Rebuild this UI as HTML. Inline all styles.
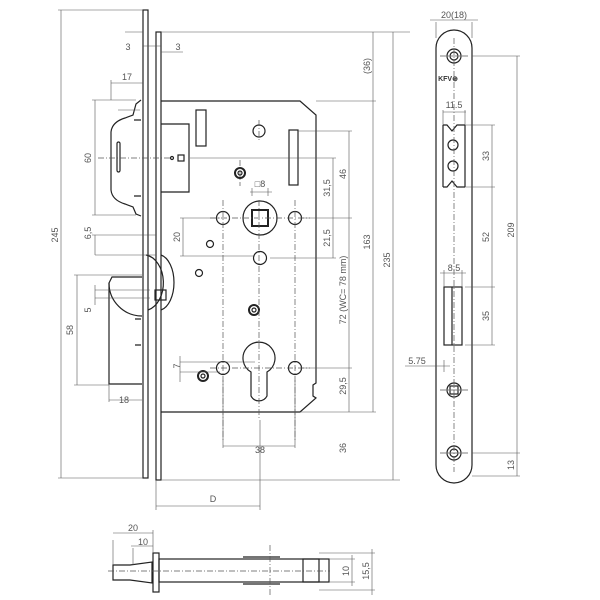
<!DOCTYPE html>
<html><head><meta charset="utf-8"><style>html,body{margin:0;padding:0;background:#fff}svg{display:block}</style></head>
<body>
<svg width="600" height="600" viewBox="0 0 600 600" xmlns="http://www.w3.org/2000/svg" font-family="Liberation Sans, sans-serif">
<g fill="none" stroke="#222" stroke-width="1.2">
<rect x="143" y="10" width="5" height="468"/>
<rect x="156" y="32" width="5" height="448"/>
<path d="M161 101 H300 L316 115 V383 L313 385 V396 L316 398 L300 412 H161"/>
<path d="M161 124 H189 V192 H161"/>
<rect x="178" y="155" width="6" height="6"/><circle cx="172" cy="158" r="1.5"/>
<rect x="196" y="110" width="10" height="36"/>
<rect x="289" y="130" width="9" height="55"/>
<circle cx="259" cy="131" r="6"/><circle cx="223" cy="218" r="6.5"/><circle cx="295" cy="218" r="6.5"/><circle cx="260" cy="258" r="6.5"/>
<circle cx="260" cy="218" r="17"/><rect x="252" y="210" width="16" height="16" stroke-width="2"/>
<circle cx="240" cy="173" r="5" stroke-width="2"/><circle cx="240" cy="173" r="2"/>
<circle cx="254" cy="310" r="5" stroke-width="2"/><circle cx="254" cy="310" r="2"/>
<circle cx="203" cy="376" r="5" stroke-width="2"/><circle cx="203" cy="376" r="2"/>
<circle cx="210" cy="244" r="3.5"/><circle cx="199" cy="273" r="3.5"/>
<circle cx="223" cy="368" r="6.5"/><circle cx="295" cy="368" r="6.5"/>
<path d="M251 372 A16 16 0 1 1 267 372 L267 396 A9 9 0 0 1 251 396 Z"/>
<path d="M141 100 L136 104 L133 115 L125 118 Q112 122 111 132 V190 Q112 200 125 204 L133 207 L136 214 L141 216"/>
<rect x="117" y="142" width="3" height="30" rx="1.5"/>
<path d="M134 120 H141 M134 196 H141"/>
<path d="M142 277 H112 L109 283 V384 H142"/>
<path d="M109 283 A33 33 0 0 0 142 316"/>
<path d="M135 319 H141 M135 345 H141"/>
<path d="M146 255 A20 28 0 0 1 148 310 M161 255 A16 28 0 0 1 161 310"/>
<rect x="155" y="290" width="11" height="10"/>
<path d="M436 48 A18 18 0 0 1 472 48 V465 A18 18 0 0 1 436 465 Z"/>
<circle cx="454" cy="56" r="7"/><circle cx="454" cy="56" r="4"/>
<circle cx="454" cy="390" r="7"/><rect x="450" y="386" width="8" height="8"/>
<circle cx="454" cy="453" r="7"/><circle cx="454" cy="453" r="4"/>
<path d="M443 125 H447 L452 131 L457 125 H465 M443 187 H447 L452 181 L457 187 H465 M443 125 V187 M465 125 V187"/>
<circle cx="453" cy="145" r="5"/><circle cx="453" cy="166" r="5"/>
<rect x="444" y="287" width="18" height="58"/><path d="M452 287 V345"/>
<path d="M113 565 V580 H130 L152 583 V562 L130 565 Z"/>
<rect x="153" y="553" width="6" height="39"/>
<rect x="159" y="559" width="170" height="23"/>
<rect x="303" y="559" width="16" height="23"/>
<path d="M243 557 H280 M243 584 H280"/>
</g>
<g fill="none" stroke="#555" stroke-width="0.7" stroke-dasharray="6 2 1 2">
<path d="M98 158 H170"/><path d="M259 120 V142 M259 200 V420 M223 200 V440 M295 200 V440 M210 218 H310 M210 368 H310 M240 160 V186"/>
<path d="M454 38 V472 M440 56 H468 M440 390 H468 M440 453 H468"/>
<path d="M108 571 H330 M270 545 V595"/>
</g>
<g fill="none" stroke="#555" stroke-width="0.6">
<path d="M61 10 V478 M58 10 H143 M58 478 H143"/>
<path d="M161 32 H410 M161 480 H400 M373 32 V412 M393 32 V480 M316 101 H376 M300 412 H376"/>
<path d="M298 131 H352 M349 131 V412 M333 158 V258 M190 158 H336 M300 218 H352 M270 258 H336 M300 368 H352"/>
<path d="M95 100 V215 M92 100 H136 M92 215 H136 M111 80 V100 M111 83 H143 M95 235 V255 M95 255 H156 M92 235 H156"/>
<path d="M183 218 V256 M180 218 H220 M180 256 H255"/>
<path d="M77 275 V385 M74 275 H142 M74 385 H109 M95 285 V305 M95 290 H150 M95 298 H150 M109 385 V402 M109 400 H142"/>
<path d="M180 356 V382 M180 362 H255 M180 372 H220"/>
<path d="M223 380 V448 M295 380 V448 M223 446 H295"/>
<path d="M156 480 V510 M260 420 V510 M156 506 H260"/>
<path d="M118 110 H140 M125 32 H143 M161 52 H183 M143 46 H161"/>
<path d="M252 188 V196 M268 188 V196 M250 192 H272"/>
<path d="M436 22 V38 M472 22 V38 M430 20 H478"/>
<path d="M472 56 H520 M517 56 V476 M472 476 H520 M472 453 H520"/>
<path d="M465 125 H495 M465 187 H495 M465 287 H495 M465 345 H495 M492 125 V345"/>
<path d="M443 110 V125 M465 110 V125 M443 112 H466"/>
<path d="M444 270 V287 M462 270 V287 M440 273 H466"/>
<path d="M405 366 H450 M444 360 V372"/>
<path d="M113 540 V565 M153 530 V553 M113 533 H153 M133 548 V565 M131 546 H153"/>
<path d="M329 559 H355 M329 582 H355 M352 555 V586 M319 553 H375 M319 590 H375 M372 549 V595"/>
</g>
<g font-size="9" fill="#555" text-anchor="middle">
<text x="128" y="50">3</text><text x="178" y="50">3</text>
<text x="127" y="80">17</text>
<text x="260" y="187">□8</text>
<text x="124" y="403">18</text>
<text x="260" y="453">38</text>
<text x="213" y="502">D</text>
<text x="454" y="18">20(18)</text>
<text x="454" y="108">11.5</text>
<text x="454" y="271">8.5</text>
<text x="417" y="364">5.75</text>
<text x="133" y="531">20</text>
<text x="143" y="545">10</text>
<text x="448" y="81" font-size="7" font-weight="bold" fill="#333">KFV⊕</text>
<g>
<text transform="translate(58 235) rotate(-90)">245</text>
<text transform="translate(91 158) rotate(-90)">60</text>
<text transform="translate(91 233) rotate(-90)">6,5</text>
<text transform="translate(91 310) rotate(-90)">5</text>
<text transform="translate(73 330) rotate(-90)">58</text>
<text transform="translate(180 237) rotate(-90)">20</text>
<text transform="translate(180 366) rotate(-90)">7</text>
<text transform="translate(346 174) rotate(-90)">46</text>
<text transform="translate(330 188) rotate(-90)">31,5</text>
<text transform="translate(330 238) rotate(-90)">21,5</text>
<text transform="translate(346 290) rotate(-90)">72 (WC= 78 mm)</text>
<text transform="translate(346 386) rotate(-90)">29,5</text>
<text transform="translate(346 448) rotate(-90)">36</text>
<text transform="translate(370 66) rotate(-90)">(36)</text>
<text transform="translate(370 242) rotate(-90)">163</text>
<text transform="translate(390 260) rotate(-90)">235</text>
<text transform="translate(489 156) rotate(-90)">33</text>
<text transform="translate(489 237) rotate(-90)">52</text>
<text transform="translate(489 316) rotate(-90)">35</text>
<text transform="translate(514 230) rotate(-90)">209</text>
<text transform="translate(514 465) rotate(-90)">13</text>
<text transform="translate(349 571) rotate(-90)">10</text>
<text transform="translate(369 571) rotate(-90)">15,5</text>
</g>
</g>
</svg>
</body></html>
